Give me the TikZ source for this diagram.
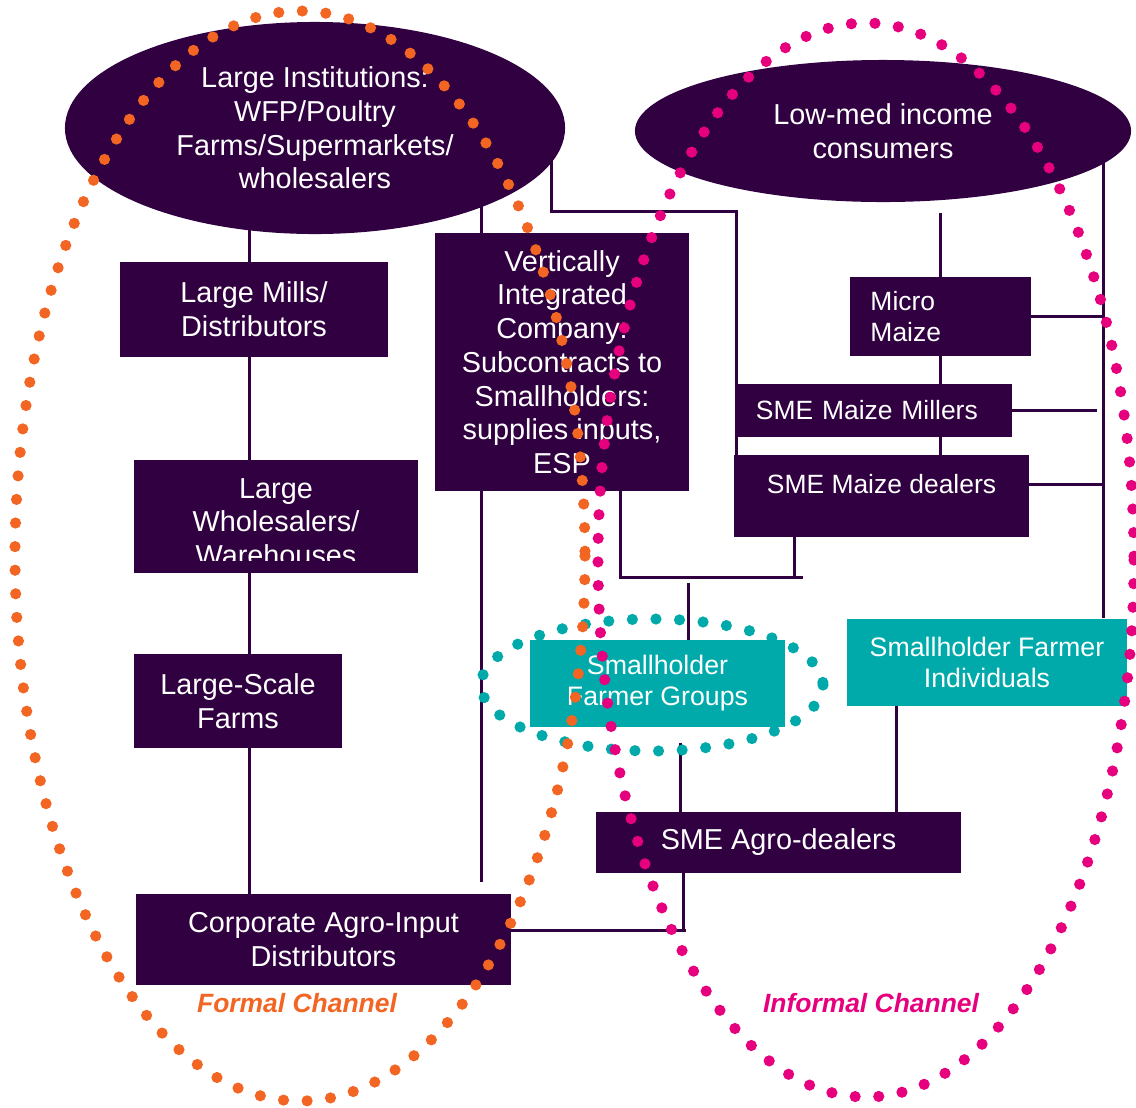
\documentclass[tikz,border=0pt]{standalone}
\usepackage{fontspec}
\setmainfont{Liberation Sans}
\usetikzlibrary{shapes.geometric}

\definecolor{deepPlum}{RGB}{48,0,64}
\definecolor{tealGreen}{RGB}{0,170,170}
\definecolor{formalOrange}{RGB}{242,101,34}
\definecolor{informalPink}{RGB}{230,0,126}

\pgfdeclarelayer{background}
\pgfsetlayers{background,main}

\begin{document}
\begin{tikzpicture}[x=0.025cm, y=-0.025cm,
    plumBox/.style={fill=deepPlum, text=white, inner sep=0pt, align=center, font=\fontsize{20.5}{24}\selectfont},
    tealBox/.style={fill=tealGreen, text=white, inner sep=0pt, align=center, font=\fontsize{19}{22}\selectfont},
    plumEllipse/.style={ellipse, fill=deepPlum, text=white, inner sep=0pt, align=center, font=\fontsize{20.5}{24}\selectfont},
    boxText/.style={text=white, inner sep=0pt, align=center, font=\fontsize{20.5}{24}\selectfont},
    smallText/.style={font=\fontsize{18.8}{22}\selectfont},
    link/.style={draw=deepPlum, line width=0.075cm},
    dotRing/.style={line width=0.28cm, line cap=round, dash pattern=on 0pt off 0.59cm},
    channel/.style={font=\fontsize{18.8}{22}\selectfont\bfseries\itshape}
  ]
  \useasboundingbox (0,0) rectangle (1136,1107);

  % Formal side
  \node[plumEllipse, minimum width=12.5cm, minimum height=5.3cm] (inst) at (315,128) {Large Institutions:\\WFP/Poultry\\Farms/Supermarkets/\\wholesalers};
  \node[plumBox, minimum width=6.7cm, minimum height=2.375cm] (mills) at (254,309.5) {Large Mills/\\Distributors};
  \node[plumBox, minimum width=7.1cm, minimum height=2.825cm] (whole) at (276,516.5) {};
  \begin{scope}
    \clip (whole.north west) rectangle ([yshift=0.325cm]whole.south east);
    \node[boxText] (wlab) at (276,522) {Large\\Wholesalers/\\Warehouses};
  \end{scope}
  \node[plumBox, minimum width=5.2cm, minimum height=2.35cm] (farms) at (238,701) {Large-Scale\\Farms};
  \node[plumBox, minimum width=9.375cm, minimum height=2.275cm] (corp) at (323.5,939.5) {Corporate Agro-Input\\Distributors};
  \node[plumBox, minimum width=6.35cm, minimum height=6.45cm] (vic) at (562,362) {Vertically\\Integrated\\Company:\\Subcontracts to\\Smallholders:\\supplies inputs,\\ESP};

  % Informal side
  \node[plumEllipse, minimum width=12.4cm, minimum height=3.55cm] (cons) at (883,131) {Low-med income\\consumers};
  \node[plumBox, smallText, align=left, text width=3.5cm, inner xsep=0.5cm, minimum height=1.975cm] (micro) at (940.5,316.5) {Micro\\Maize};
  \node[plumBox, smallText, align=left, text width=5.875cm, inner xsep=0.525cm, minimum height=1.325cm] (millers) at (873.5,410.5) {SME Maize Millers};
  \node[plumBox, minimum width=7.375cm, minimum height=2.05cm] (dealers) at (881.5,496) {};
  \node[boxText, smallText] (dlab) at (881.5,484) {SME Maize dealers};
  \node[tealBox, minimum width=6.375cm, minimum height=2.175cm] (sfg) at (657.5,683.5) {Smallholder\\Farmer Groups};
  \node[tealBox, minimum width=7cm, minimum height=2.175cm] (sfi) at (987,662.5) {Smallholder Farmer\\Individuals};
  \node[plumBox, minimum width=9.125cm, minimum height=1.525cm] (agro) at (778.5,842.5) {SME Agro-dealers};

  % free ends of the connectors
  \coordinate (spine) at (249,894);
  \coordinate (vx) at (481,882);
  \coordinate (tee) at (551,211);
  \coordinate (mj) at (736,490);
  \coordinate (rs) at (1103,618);
  \coordinate (vb) at (620,577);
  \coordinate (hb) at (803,577);
  \coordinate (db) at (794,579);
  \coordinate (gt) at (688,583);
  \coordinate (gb) at (680,743);
  \coordinate (ab) at (683,930);
  \coordinate (ib) at (896,812);

  \begin{pgfonlayer}{background}
    \draw[link] (spine |- inst.center) -- (spine);
    \draw[link] (vx |- inst.center) -- (vx);
    \draw[link] (tee |- inst.center) -- (tee) -| (mj);
    \draw[link] (micro.north) -- ([yshift=1.6cm]micro.north);
    \draw[link] (micro.south) -- (micro.south |- dealers.north);
    \draw[link] (rs |- cons.center) -- (rs);
    \draw[link] (micro.east) -- (micro.east -| rs);
    \draw[link] (millers.east) -- ++(85,0);
    \draw[link] (dlab.east -| dealers.east) -- (dlab.east -| rs);
    \draw[link] (vb |- vic.south) -- (vb) -- (hb);
    \draw[link] (db |- dealers.south) -- (db);
    \draw[link] (gt) -- (gt |- sfg.north);
    \draw[link] (gb) -- (gb |- agro.north);
    \draw[link] (ab |- agro.south) -- (ab);
    \draw[link] (ab -| corp.east) -- ([xshift=0.075cm]ab);
    \draw[link] (ib |- sfi.south) -- (ib);
  \end{pgfonlayer}

  % Channels
  \draw[dotRing, draw=tealGreen] (652,685) ellipse [x radius=171, y radius=66];
  \draw[dotRing, draw=formalOrange] (300,556) ellipse [x radius=285, y radius=545];
  \draw[dotRing, draw=informalPink] (866,560) ellipse [x radius=268, y radius=537];
  \node[channel, text=formalOrange] (formal) at (297,1003) {Formal Channel};
  \node[channel, text=informalPink] (informal) at (871,1003) {Informal Channel};

\end{tikzpicture}
\end{document}
